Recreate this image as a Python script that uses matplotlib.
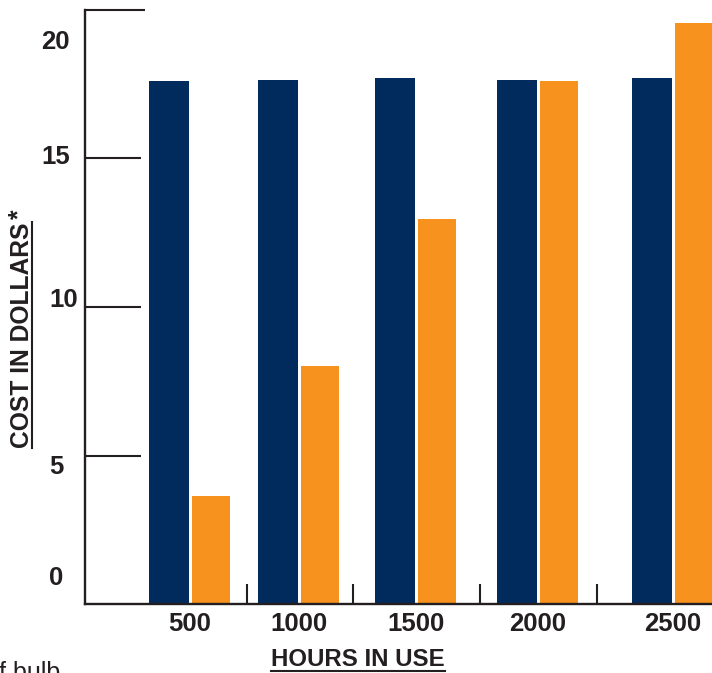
#! /usr/bin/env python3
# Cost in dollars vs hours in use, two bulb types, grouped bars

import matplotlib

matplotlib.use("Agg")
import matplotlib.pyplot as plt
from matplotlib.lines import Line2D

# Data
hours = ["500", "1000", "1500", "2000", "2500"]
navy_cost = [17.6, 17.65, 17.7, 17.65, 17.7]
orange_cost = [3.65, 8.0, 12.95, 17.6, 19.55]
y_ticks = [0, 5, 10, 15, 20]

# Layout (x in pixel-like units, xlim maps 1:1 onto figure pixels)
W, H = 712, 673
group_x = [189.5, 299, 416, 538, 672.5]
separator_x = [246.5, 353, 479.7, 596.8]
ylabel_pos = [(56, 0.875), (56, 4.61), (64, 10.24), (56, 15.05), (55.5, 18.92)]

NAVY = "#012B5C"
ORANGE = "#F7921E"
INK = "#231F20"
FONT = "Liberation Sans"

plt.rcParams["font.family"] = [FONT, "DejaVu Sans"]

fig = plt.figure(figsize=(W / 100, H / 100), dpi=100)
ax = fig.add_axes([85 / W, 69 / H, (W - 85) / W, 594 / H])
ax.set_xlim(85, W)
ax.set_ylim(0, 20)

ax.bar([x - 21 for x in group_x], navy_cost, width=40, color=NAVY, zorder=2)
ax.bar([x + 21 for x in group_x], orange_cost, width=38, color=ORANGE, zorder=2)

for side in ("top", "right"):
    ax.spines[side].set_visible(False)
for side in ("left", "bottom"):
    ax.spines[side].set_linewidth(1.7)
    ax.spines[side].set_color(INK)
    ax.spines[side].set_zorder(3)

# y ticks: long inward lines, labels drawn separately
ax.set_yticks(y_ticks)
ax.set_yticklabels([])
ax.tick_params(axis="y", direction="in", length=40, width=1.5, color=INK)
ax.yaxis.get_major_ticks()[-1].tick1line.set_markersize(43)
ax.yaxis.get_major_ticks()[0].tick1line.set_visible(False)
for (x, y), v in zip(ylabel_pos, y_ticks):
    ax.text(x, y, str(v), ha="center", va="center", fontsize=18.5,
            fontweight="bold", color=INK, clip_on=False)

# x ticks: labels at group centres, short separator marks between groups
ax.set_xticks(group_x, hours)
ax.set_xticks(separator_x, minor=True)
ax.tick_params(axis="x", which="major", length=0, pad=5.5, labelsize=18.5,
               labelcolor=INK)
ax.tick_params(axis="x", which="minor", direction="in", length=14.5, width=1.5,
               color=INK)
for lab in ax.get_xticklabels():
    lab.set_fontweight("bold")


def px(x, y):
    return x / W, 1 - y / H


xl = fig.text(*px(358, 660), "HOURS IN USE", ha="center", va="center",
              fontsize=17.3, fontweight="bold", color=INK)
yl = fig.text(*px(22, 335), "COST IN DOLLARS", ha="center", va="center",
              rotation=90, fontsize=17.7, fontweight="bold", color=INK)
fig.text(*px(19, 214), "*", ha="center", va="center", rotation=90,
         fontsize=17.7, fontweight="bold", color=INK)
fig.text(*px(-1, 680), "f bulb", ha="left", va="baseline", fontsize=18,
         color=INK)

# underlines
renderer = fig.canvas.get_renderer()
bb = xl.get_window_extent(renderer).transformed(fig.transFigure.inverted())
fig.add_artist(Line2D([bb.x0, bb.x1], [1 - 671 / H] * 2, lw=1.5, color=INK))
bb = yl.get_window_extent(renderer).transformed(fig.transFigure.inverted())
fig.add_artist(Line2D([32 / W] * 2, [bb.y0, bb.y1], lw=1.5, color=INK))

fig.savefig("out.png", dpi=100)
